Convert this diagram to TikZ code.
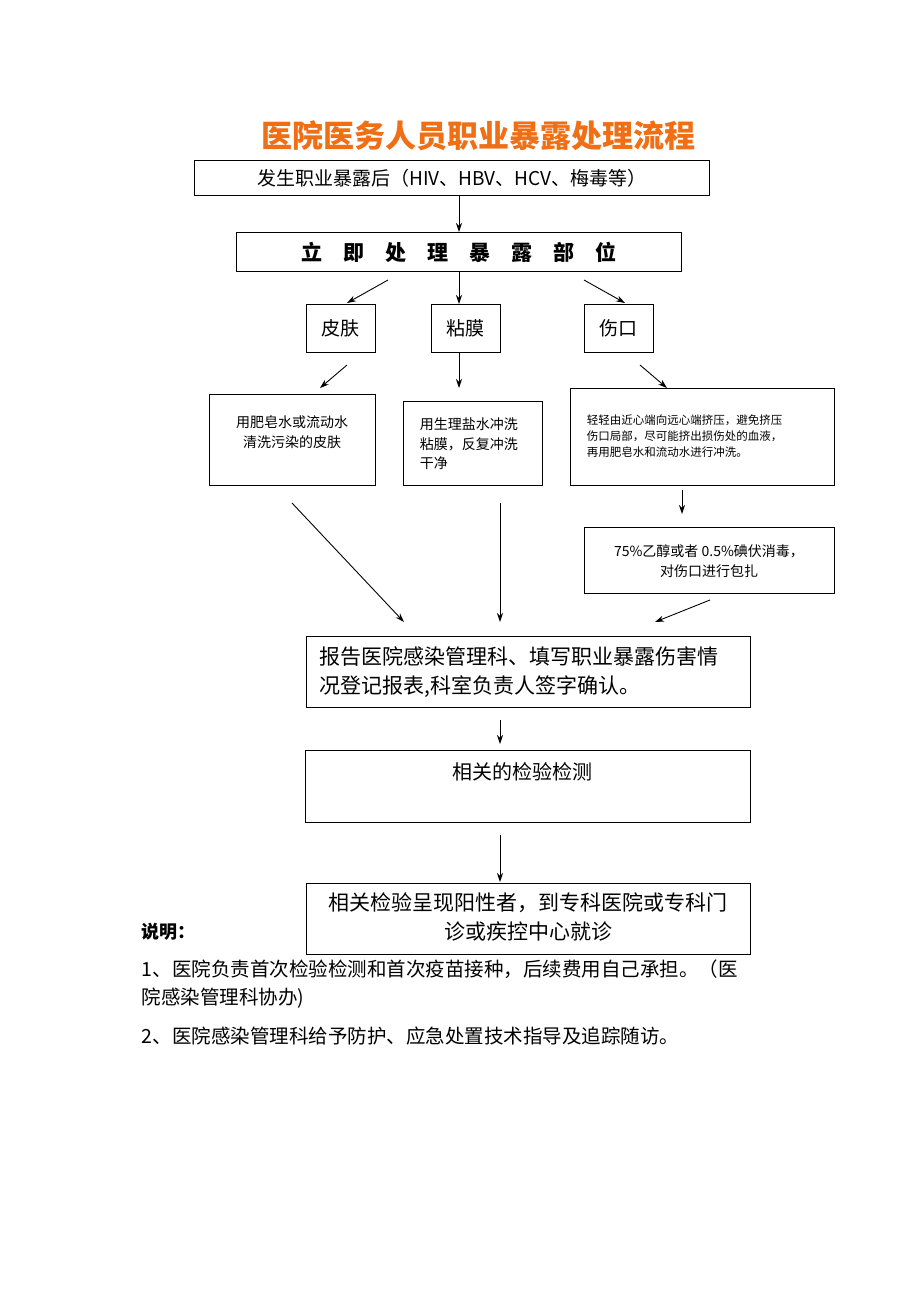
\documentclass[tikz,border=0pt]{standalone}
\usepackage{fontspec}
\setmainfont{Noto Sans CJK SC}
\usetikzlibrary{arrows.meta}
\definecolor{titleorange}{RGB}{240,110,20}
\tikzset{every picture/.style={line width=0.9pt}}
\tikzset{box/.style={draw, inner sep=0pt, anchor=north west},
  arr/.style={-{Stealth[length=9pt,width=6pt]}},
  fz/.style={font=\fontsize{#1}{1.4\dimexpr#1pt\relax}\selectfont}}

\begin{document}
\begin{tikzpicture}[x=1pt,y=1pt,yscale=-1,xscale=1]
\useasboundingbox (0,0) rectangle (920,1302);

% Title
\node (title) at (478,136) [fz=31, text=titleorange] {\bfseries 医院医务人员职业暴露处理流程};

% Boxes
\node (occur) [box, minimum width=515, minimum height=35, fz=19] at (194,160) {发生职业暴露后（HIV、HBV、HCV、梅毒等）};
\node (treat) [box, minimum width=445, minimum height=39, fz=21] at (236,232) {\bfseries 立\quad 即\quad 处\quad 理\quad 暴\quad 露\quad 部\quad 位};
\node (skin) [box, minimum width=69, minimum height=48, fz=19] at (306,304) {皮肤};
\node (mucosa) [box, minimum width=69, minimum height=48, fz=19] at (431,304) {粘膜};
\node (wound) [box, minimum width=69, minimum height=48, fz=19] at (584,304) {伤口};
\node (wash) [box, minimum width=166, minimum height=91] at (209,394) {};
\node at (292,432) [fz=14, align=center] {用肥皂水或流动水\\清洗污染的皮肤};
\node (rinse) [box, minimum width=139, minimum height=84] at (403,401) {};
\node at (416,444) [anchor=west, fz=14, align=left] {用生理盐水冲洗\\粘膜，反复冲洗\\干净};
\node (squeeze) [box, minimum width=264, minimum height=97] at (570,388) {};
\node at (583,436) [anchor=west, fz=11.5, align=left] {轻轻由近心端向远心端挤压，避免挤压\\伤口局部，尽可能挤出损伤处的血液，\\再用肥皂水和流动水进行冲洗。};
\node (disinf) [box, minimum width=250, minimum height=66] at (584,527) {};
\node at (709,561) [fz=14, align=center] {75\%乙醇或者 0.5\%碘伏消毒，\\对伤口进行包扎};
\node (report) [box, minimum width=444, minimum height=71] at (306,636) {};
\node at (316,672) [anchor=west, fz=21, align=left] {报告医院感染管理科、填写职业暴露伤害情\\况登记报表,科室负责人签字确认。};
\node (test) [box, minimum width=445, minimum height=72] at (305,750) {};
\node at (522,772) [fz=20] {相关的检验检测};
\node (refer) [box, minimum width=444, minimum height=71] at (306,883) {};
\node at (528,917) [fz=21, align=center] {相关检验呈现阳性者，到专科医院或专科门\\诊或疾控中心就诊};

% Notes
\node (note) at (138,932) [anchor=west, fz=18] {\bfseries 说明：};
\node (note1) at (138,984) [anchor=west, fz=19.5, align=left] {1、医院负责首次检验检测和首次疫苗接种，后续费用自己承担。（医\\院感染管理科协办)};
\node (note2) at (138,1036) [anchor=west, fz=19.5] {2、医院感染管理科给予防护、应急处置技术指导及追踪随访。};

% Arrows
\coordinate (s1) at (388,280); \coordinate (e1) at (347,303);
\coordinate (s2) at (584,280); \coordinate (e2) at (625,303);
\coordinate (s3) at (347,365); \coordinate (e3) at (320,388);
\coordinate (s4) at (640,365); \coordinate (e4) at (667,388);
\coordinate (s5) at (682,490); \coordinate (e5) at (682,514);
\coordinate (s6) at (292,503); \coordinate (e6) at (404,622);
\coordinate (s7) at (500,503); \coordinate (e7) at (500,622);
\coordinate (s8) at (710,600); \coordinate (e8) at (655,622);
\coordinate (s9) at (500,720); \coordinate (e9) at (500,744);
\coordinate (s10) at (500,835); \coordinate (e10) at (500,882);
\draw[arr] (occur.south -| 459,0) -- (treat.north -| 459,0);
\draw[arr] (treat.south -| 459,0) -- (mucosa.north -| 459,0);
\draw[arr] (mucosa.south -| 459,0) -- (459,388);
\foreach \i in {1,...,10} \draw[arr] (s\i) -- (e\i);
\end{tikzpicture}
\end{document}
